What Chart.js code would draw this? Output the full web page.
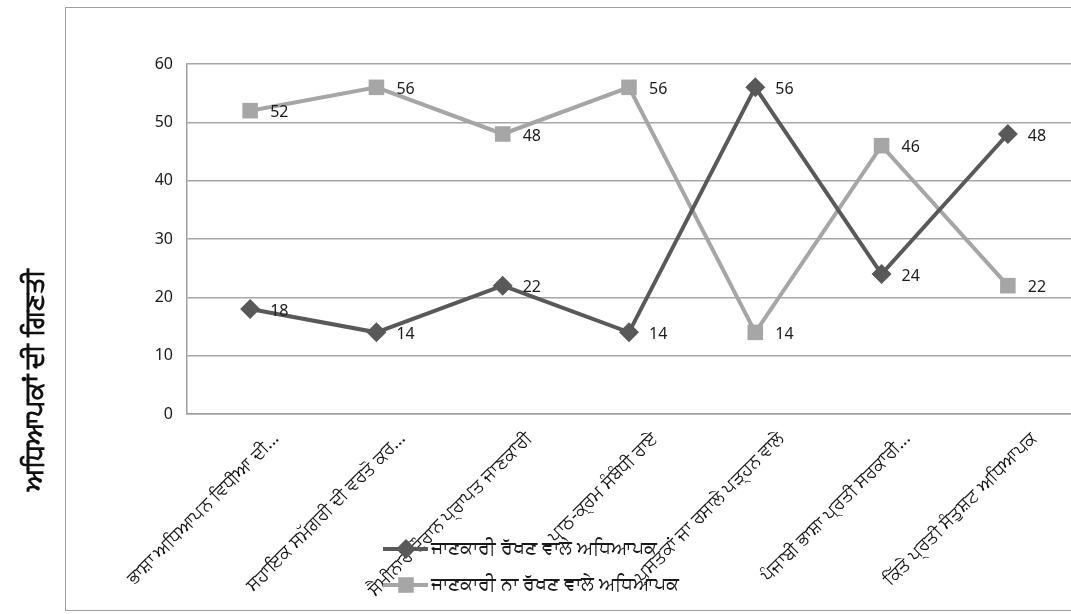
<!DOCTYPE html>
<html>
<head>
<meta charset="utf-8">
<script src="https://cdn.jsdelivr.net/npm/chart.js@4.4.1/dist/chart.umd.min.js"></script>
<style>
  html, body { margin: 0; padding: 0; background: #fff; }
  #wrap { position: relative; width: 1071px; height: 614px; }
</style>
</head>
<body>
<div id="wrap"><canvas id="chart"></canvas></div>
<script>
const categories = [
  "ਭਾਸ਼ਾ ਅਧਿਆਪਨ ਵਿਧੀਆ ਦੀ...",
  "ਸਹਾਇਕ ਸਮੱਗਰੀ ਦੀ ਵਰਤੋ ਕਰ...",
  "ਸੈਮੀਨਾਰ ਦੌਰਾਨ ਪ੍ਰਾਪਤ ਜਾਣਕਾਰੀ",
  "ਪਾਠ-ਕ੍ਰਮ ਸੰਬੰਧੀ ਰਾਏ",
  "ਪੁਸਤਕਾਂ ਜਾ ਰਸਾਲੇ ਪੜ੍ਹਨ ਵਾਲੇ",
  "ਪੰਜਾਬੀ ਭਾਸ਼ਾ ਪ੍ਰਤੀ ਸਰਕਾਰੀ...",
  "ਕਿੱਤੇ ਪ੍ਰਤੀ ਸੰਤੁਸ਼ਟ ਅਧਿਆਪਕ"
];
const withInfo = [18, 14, 22, 14, 56, 24, 48];
const withoutInfo = [52, 56, 48, 56, 14, 46, 22];
const seriesNames = ["ਜਾਣਕਾਰੀ ਰੱਖਣ ਵਾਲੇ ਅਧਿਆਪਕ", "ਜਾਣਕਾਰੀ ਨਾ ਰੱਖਣ ਵਾਲੇ ਅਧਿਆਪਕ"];
const yTitle = "ਅਧਿਆਪਕਾਂ ਦੀ ਗਿਣਤੀ";

const darkGray = "#595959";
const lightGray = "#a6a6a6";
const fontFam = "'Noto Sans', 'DejaVu Sans', sans-serif";

// frame, y title, value labels and legend drawn on the canvas
const extras = {
  id: "extras",
  beforeDraw(chart) {
    const c = chart.ctx;
    c.save();
    c.strokeStyle = "#a0a0a0";
    c.lineWidth = 1;
    c.strokeRect(65.5, 7.5, 1100, 603);
    c.restore();
  },
  afterDatasetsDraw(chart) {
    const c = chart.ctx;
    c.save();
    c.font = "16px " + fontFam;
    c.fillStyle = "#1a1a1a";
    c.textBaseline = "middle";
    chart.data.datasets.forEach((ds, i) => {
      chart.getDatasetMeta(i).data.forEach((pt, j) => {
        c.fillText(String(ds.data[j]), pt.x + 20, pt.y + 2);
      });
    });
    c.restore();
  },
  afterDraw(chart) {
    const c = chart.ctx;
    // y axis title
    c.save();
    c.translate(36, 380);
    c.rotate(-Math.PI / 2);
    c.font = "bold 26px " + fontFam;
    c.fillStyle = "#111";
    c.textAlign = "center";
    c.textBaseline = "middle";
    c.fillText(yTitle, 0, 0);
    c.restore();

    // legend
    const rows = [
      { y: 549, color: darkGray, style: "rectRot", r: 10 },
      { y: 585, color: lightGray, style: "rect", r: 11 }
    ];
    rows.forEach((row, i) => {
      c.save();
      c.strokeStyle = row.color;
      c.lineWidth = 4;
      c.beginPath();
      c.moveTo(383, row.y);
      c.lineTo(428, row.y);
      c.stroke();
      c.fillStyle = row.color;
      Chart.helpers.drawPoint(c, { pointStyle: row.style, radius: row.r, borderWidth: 0 }, 406, row.y);
      c.font = "19px " + fontFam;
      c.fillStyle = "#1a1a1a";
      c.textBaseline = "middle";
      c.fillText(seriesNames[i], 431, row.y);
      c.restore();
    });
  }
};

new Chart(document.getElementById("chart"), {
  type: "line",
  data: {
    labels: categories,
    datasets: [
      {
        label: seriesNames[0],
        data: withInfo,
        borderColor: darkGray,
        backgroundColor: darkGray,
        borderWidth: 4,
        pointStyle: "rectRot",
        pointRadius: 10,
        pointHoverRadius: 10,
        pointBorderWidth: 0,
        tension: 0,
        clip: false
      },
      {
        label: seriesNames[1],
        data: withoutInfo,
        borderColor: lightGray,
        backgroundColor: lightGray,
        borderWidth: 4,
        pointStyle: "rect",
        pointRadius: 11,
        pointHoverRadius: 11,
        pointBorderWidth: 0,
        tension: 0,
        clip: false
      }
    ]
  },
  options: {
    responsive: true,
    maintainAspectRatio: false,
    animation: false,
    layout: { autoPadding: false, padding: { top: 64, left: 0, right: -5, bottom: 0 } },
    plugins: {
      legend: { display: false },
      tooltip: { enabled: false }
    },
    scales: {
      x: {
        offset: true,
        grid: { display: false, drawTicks: false },
        border: { color: "#a0a0a0", width: 1.5 },
        ticks: {
          autoSkip: false,
          maxRotation: 45,
          minRotation: 45,
          padding: 14,
          labelOffset: 26,
          color: "#111",
          font: { family: fontFam, size: 18 }
        },
        afterFit(scale) {
          scale.height = 200;
          scale.paddingLeft = 0;
          scale.paddingRight = 0;
        }
      },
      y: {
        min: 0,
        max: 60,
        grid: { color: "#a6a6a6", lineWidth: 1.5, drawTicks: false },
        border: { color: "#a0a0a0", width: 1.5 },
        ticks: {
          stepSize: 10,
          padding: 14,
          color: "#1a1a1a",
          font: { family: fontFam, size: 16 }
        },
        afterFit(scale) { scale.width = 187; }
      }
    }
  },
  plugins: [extras]
});
</script>
</body>
</html>
